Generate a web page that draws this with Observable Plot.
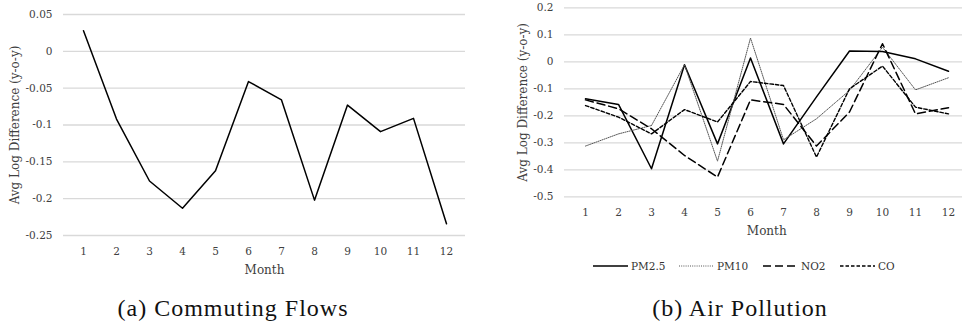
<!DOCTYPE html>
<html>
<head>
<meta charset="utf-8">
<script src="https://cdn.jsdelivr.net/npm/d3@7"></script>
<script src="https://cdn.jsdelivr.net/npm/@observablehq/plot@0.6"></script>
<style>
  html, body { margin: 0; padding: 0; background: #fff; }
  #wrap { position: relative; width: 962px; height: 326px; overflow: hidden; background: #fff; }
  .panel { position: absolute; top: 0; overflow: hidden; }
  .panel svg { max-width: none !important; }
  .caption { position: absolute; font-family: "Liberation Serif", serif; font-size: 24px; line-height: 24px; letter-spacing: 1px; color: #111; white-space: nowrap; transform: translateX(-50%); }
  .leg { position: absolute; font-family: "DejaVu Serif", serif; font-size: 10.5px; color: #333; display: flex; align-items: center; white-space: nowrap; }
  .leg svg { margin-right: 3px; }
</style>
</head>
<body>
<div id="wrap">
  <div class="panel" id="left" style="left:0;width:480px;height:285px;"></div>
  <div class="panel" id="right" style="left:480px;width:482px;height:245px;"></div>
  <div id="legend"></div>
  <div class="caption" style="left:233px;top:296px;">(a) Commuting Flows</div>
  <div class="caption" style="left:740px;top:296px;">(b) Air Pollution</div>
</div>
<script>
// ---- data ----
const months = [1, 2, 3, 4, 5, 6, 7, 8, 9, 10, 11, 12];
const commuting = [0.028, -0.092, -0.176, -0.213, -0.162, -0.041, -0.066, -0.202, -0.073, -0.109, -0.091, -0.234];
const pm25 = [-0.137, -0.158, -0.396, -0.011, -0.304, 0.014, -0.304, -0.13, 0.040, 0.038, 0.011, -0.035];
const pm10 = [-0.312, -0.267, -0.236, -0.011, -0.368, 0.088, -0.289, -0.211, -0.106, 0.054, -0.104, -0.059];
const no2  = [-0.141, -0.174, -0.248, -0.347, -0.427, -0.141, -0.158, -0.312, -0.186, 0.067, -0.193, -0.170];
const co   = [-0.162, -0.205, -0.267, -0.177, -0.223, -0.073, -0.088, -0.353, -0.100, -0.016, -0.168, -0.193];
const yTicksLeft = [0.05, 0, -0.05, -0.1, -0.15, -0.2, -0.25];
const yTicksRight = [0.2, 0.1, 0, -0.1, -0.2, -0.3, -0.4, -0.5];
const seriesNames = ["PM2.5", "PM10", "NO2", "CO"];
const yLabel = "Avg Log Difference (y-o-y)";
const xLabel = "Month";

const fmt = d => String(+(+d).toFixed(2));
const font = {fontFamily: "DejaVu Serif", fontSize: "10.5px", color: "#404040", background: "transparent", overflow: "visible", maxWidth: "none"};
const gridStyle = {stroke: "#d9d9d9", strokeOpacity: 1, strokeWidth: 1.3};

function enlargeTitles(svg) {
  // axis titles are drawn a little larger than tick labels in the original
  svg.querySelectorAll("g[aria-label='y-axis label'], g[aria-label='x-axis label']").forEach(g => g.setAttribute("font-size", "12"));
  svg.querySelectorAll("g[aria-label='y-axis label'] text, g[aria-label='x-axis label'] text").forEach(t => t.setAttribute("font-size", "12"));
  return svg;
}

const leftTable = months.map((m, i) => ({month: m, value: commuting[i]}));

const left = Plot.plot({
  width: 480, height: 285,
  marginLeft: 63, marginRight: 15, marginTop: 14, marginBottom: 50,
  style: font,
  x: {type: "point", domain: months, padding: 0.5},
  y: {domain: [-0.25, 0.05]},
  marks: [
    Plot.gridY(yTicksLeft, gridStyle),
    Plot.axisY(yTicksLeft, {tickSize: 0, tickPadding: 11, tickFormat: fmt, label: yLabel, labelAnchor: "center", labelOffset: 53, labelArrow: false}),
    Plot.axisX(months, {tickSize: 0, tickPadding: 12, label: xLabel, labelAnchor: "center", labelOffset: 38, labelArrow: false}),
    Plot.line(leftTable, {x: "month", y: "value", stroke: "#000", strokeWidth: 1.5})
  ]
});
document.getElementById("left").appendChild(enlargeTitles(left));

const styles = {
  "PM2.5": {stroke: "#000", strokeWidth: 1.5, strokeDasharray: null},
  "PM10": {stroke: "#555", strokeWidth: 1, strokeDasharray: "1,1.2"},
  "NO2": {stroke: "#000", strokeWidth: 1.5, strokeDasharray: "8,4"},
  "CO": {stroke: "#000", strokeWidth: 1.4, strokeDasharray: "3.5,2"}
};
const rightSeries = {"PM2.5": pm25, "PM10": pm10, "NO2": no2, "CO": co};

const right = Plot.plot({
  width: 490, height: 245,
  marginLeft: 84, marginRight: 1.5, marginTop: 7.3, marginBottom: 48.7,
  style: font,
  x: {type: "point", domain: months, padding: 0.5},
  y: {domain: [-0.5, 0.2]},
  marks: [
    Plot.gridY(yTicksRight, gridStyle),
    Plot.axisY(yTicksRight, {tickSize: 0, tickPadding: 11, tickFormat: fmt, label: yLabel, labelAnchor: "center", labelOffset: 46, labelArrow: false}),
    Plot.axisX(months, {tickSize: 0, tickPadding: 12, label: xLabel, labelAnchor: "center", labelOffset: 38, labelArrow: false}),
    ...seriesNames.map(name => Plot.line(
      months.map((m, i) => ({month: m, value: rightSeries[name][i]})),
      {x: "month", y: "value", ...Object.fromEntries(Object.entries(styles[name]).filter(([k, v]) => v != null))}
    ))
  ]
});
document.getElementById("right").appendChild(enlargeTitles(right));

// legend
const legPos = {"PM2.5": 593, "PM10": 679, "NO2": 763, "CO": 840};
const legend = document.getElementById("legend");
for (const name of seriesNames) {
  const s = styles[name];
  const div = document.createElement("div");
  div.className = "leg";
  div.style.left = legPos[name] + "px";
  div.style.top = "259px";
  div.innerHTML = `<svg width="35" height="14"><line x1="0" x2="35" y1="7" y2="7" stroke="${s.stroke}" stroke-width="${s.strokeWidth}" ${s.strokeDasharray ? `stroke-dasharray="${s.strokeDasharray}"` : ""}/></svg><span>${name}</span>`;
  legend.appendChild(div);
}
</script>
</body>
</html>
